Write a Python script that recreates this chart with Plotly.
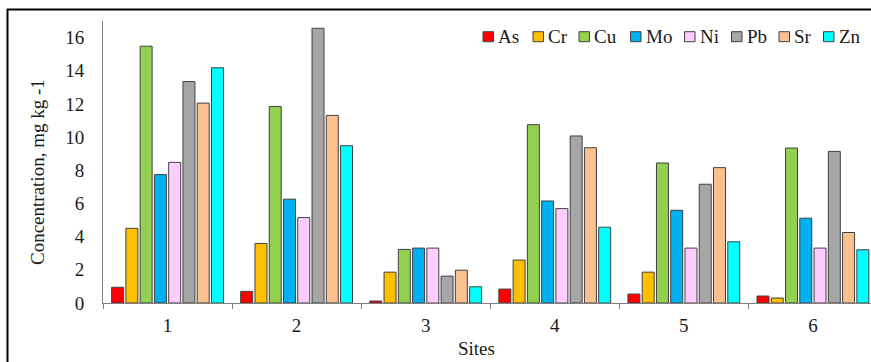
import plotly.graph_objects as go

# ---- data ----
sites = ["1", "2", "3", "4", "5", "6"]
elements = ["As", "Cr", "Cu", "Mo", "Ni", "Pb", "Sr", "Zn"]
As = [0.95, 0.70, 0.12, 0.84, 0.54, 0.42]
Cr = [4.50, 3.59, 1.86, 2.59, 1.86, 0.30]
Cu = [15.48, 11.85, 3.23, 10.75, 8.44, 9.34]
Mo = [7.74, 6.26, 3.31, 6.15, 5.59, 5.11]
Ni = [8.48, 5.15, 3.31, 5.69, 3.31, 3.31]
Pb = [13.35, 16.56, 1.62, 10.07, 7.16, 9.14]
Sr = [12.05, 11.31, 1.98, 9.36, 8.16, 4.25]
Zn = [14.18, 9.48, 0.98, 4.57, 3.69, 3.21]
y_ticks = [0, 2, 4, 6, 8, 10, 12, 14, 16]

series = [As, Cr, Cu, Mo, Ni, Pb, Sr, Zn]
colors = ["#FF0000", "#FFC000", "#92D050", "#00B0F0",
          "#FFCCFF", "#A6A6A6", "#FAC090", "#00FFFF"]

FONT = "Liberation Serif"
TXT = "#1a1a1a"
W, H = 871, 362
ML, MT, MB, MR = 103, 21, 59, 0
PW, PH = W - ML - MR, H - MT - MB


def px_x(p):
    return (p - ML) / PW


def px_y(p):
    return (H - MB - p) / PH


fig = go.Figure()
for name, vals, col in zip(elements, series, colors):
    fig.add_trace(go.Bar(
        x=sites, y=vals, name=name,
        marker=dict(color=col, line=dict(color="#404040", width=1)),
        showlegend=False,
    ))

shapes = []
annotations = []

# frame (top and left border)
shapes.append(dict(type="line", xref="paper", yref="paper",
                   x0=px_x(7), x1=1.01, y0=px_y(9.5), y1=px_y(9.5),
                   line=dict(color="black", width=2)))
shapes.append(dict(type="line", xref="paper", yref="paper",
                   x0=px_x(7.5), x1=px_x(7.5), y0=px_y(9), y1=px_y(365),
                   line=dict(color="black", width=2)))

# legend
leg_x = [483, 533, 579, 630.5, 684.5, 731.5, 779, 823.5]
for lx, name, col in zip(leg_x, elements, colors):
    shapes.append(dict(type="rect", xref="paper", yref="paper",
                       x0=px_x(lx), x1=px_x(lx + 10.5),
                       y0=px_y(31.7), y1=px_y(41.7),
                       fillcolor=col, line=dict(color="#404040", width=1)))
    annotations.append(dict(x=px_x(lx + 13), y=px_y(37), xref="paper", yref="paper",
                            text=name, showarrow=False, xanchor="left", yanchor="middle",
                            font=dict(family=FONT, size=19, color=TXT)))

# axis titles
annotations.append(dict(x=px_x(38), y=px_y(172), xref="paper", yref="paper",
                        text="Concentration, mg kg -1", showarrow=False, textangle=-90,
                        xanchor="center", yanchor="middle",
                        font=dict(family=FONT, size=19, color=TXT)))
annotations.append(dict(x=px_x(476.5), y=px_y(348), xref="paper", yref="paper",
                        text="Sites", showarrow=False,
                        xanchor="center", yanchor="middle",
                        font=dict(family=FONT, size=19, color=TXT)))

fig.update_layout(
    width=W, height=H,
    margin=dict(l=ML, r=MR, t=MT, b=MB, pad=0),
    paper_bgcolor="white", plot_bgcolor="white",
    barmode="group", bargap=0.116, bargroupgap=0.16,
    font=dict(family=FONT, size=19, color=TXT),
    shapes=shapes, annotations=annotations,
    showlegend=False,
    xaxis=dict(
        type="category", range=[-0.5, 5.45],
        showline=True, linecolor="#808080", linewidth=1,
        ticks="outside", tickson="boundaries", ticklen=5, tickcolor="#808080",
        showgrid=False, zeroline=False,
        ticklabelstandoff=5,
        tickfont=dict(family=FONT, size=19, color=TXT),
    ),
    yaxis=dict(
        range=[0, 17], tickvals=y_ticks,
        showline=True, linecolor="#808080", linewidth=1,
        ticks="", showgrid=False, zeroline=False,
        ticklabelstandoff=14,
        tickfont=dict(family=FONT, size=19, color=TXT),
    ),
)

fig.write_html(
    "out.html",
    config={"displayModeBar": False},
    post_script="document.body.style.margin='0';document.body.style.overflow='hidden';",
)
